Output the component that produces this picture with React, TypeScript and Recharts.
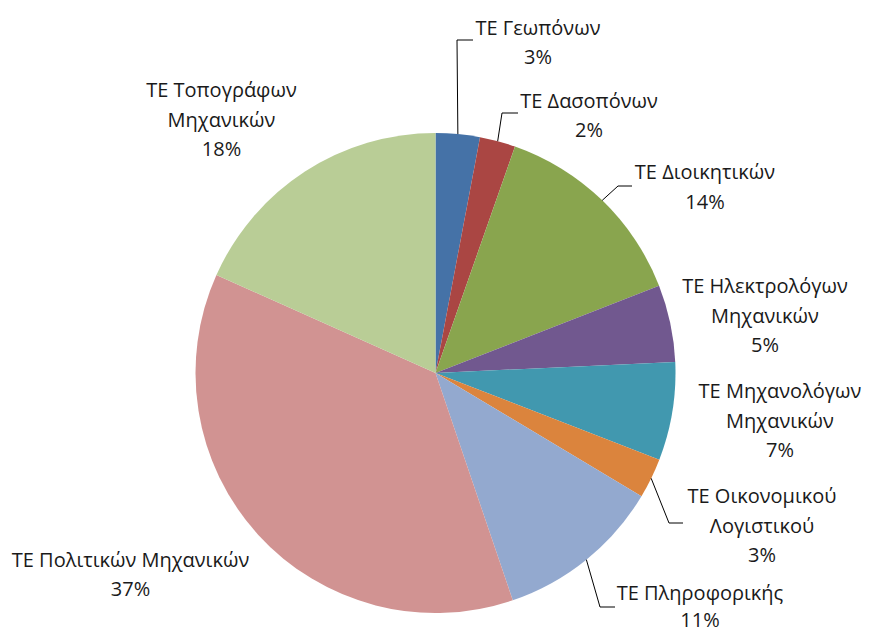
import { PieChart, Pie, Cell } from 'recharts';

const names = [
  'ΤΕ Γεωπόνων',
  'ΤΕ Δασοπόνων',
  'ΤΕ Διοικητικών',
  'ΤΕ Ηλεκτρολόγων Μηχανικών',
  'ΤΕ Μηχανολόγων Μηχανικών',
  'ΤΕ Οικονομικού Λογιστικού',
  'ΤΕ Πληροφορικής',
  'ΤΕ Πολιτικών Μηχανικών',
  'ΤΕ Τοπογράφων Μηχανικών',
];

const shares = [2.97, 2.4, 13.7, 5.2, 6.6, 2.7, 11.2, 36.9, 18.3];

const colors = ['#4572A7', '#AA4643', '#89A54E', '#71588F', '#4198AF', '#DB843D', '#93A9CF', '#D19392', '#B9CD96'];

// how each label is split into lines
const labelLines = [
  ['ΤΕ Γεωπόνων'],
  ['ΤΕ Δασοπόνων'],
  ['ΤΕ Διοικητικών'],
  ['ΤΕ Ηλεκτρολόγων', 'Μηχανικών'],
  ['ΤΕ Μηχανολόγων', 'Μηχανικών'],
  ['ΤΕ Οικονομικού', 'Λογιστικού'],
  ['ΤΕ Πληροφορικής'],
  ['ΤΕ Πολιτικών Μηχανικών'],
  ['ΤΕ Τοπογράφων', 'Μηχανικών'],
];

const data = names.map((name, i) => ({ name, value: shares[i] }));

// label placement relative to pie centre: text block centre, line gap + optional leader elbow
const layout: Array<{ dx: number; dy: number; gap?: number; leader?: [number, number, number] }> = [
  { dx: 102.5, dy: -331, leader: [21.5, -333, 37.5] },
  { dx: 153.5, dy: -258, leader: [66.5, -260, 82.5] },
  { dx: 269.5, dy: -186.5, leader: [182.5, -187, 196.5] },
  { dx: 329.5, dy: -58 },
  { dx: 344.5, dy: 47 },
  { dx: 326.5, dy: 152, leader: [233.5, 150, 247.5] },
  { dx: 264.5, dy: 232.5, gap: 27, leader: [164.5, 234, 179.5] },
  { dx: -305, dy: 201 },
  { dx: -214, dy: -254 },
];

const RAD = Math.PI / 180;
const LINE_H = 29.5;

function renderLabel(props: any) {
  const { cx, cy, midAngle, outerRadius, index, percent } = props;
  const lay = layout[index];
  const lh = lay.gap ?? LINE_H;
  const lines = [...labelLines[index], `${Math.round(percent * 100)}%`];
  const x = cx + lay.dx;
  const top = cy + lay.dy - ((lines.length - 1) * lh) / 2;
  let leader = null;
  if (lay.leader) {
    const sx = cx + outerRadius * Math.cos(-midAngle * RAD);
    const sy = cy + outerRadius * Math.sin(-midAngle * RAD);
    const [ex, ey, hx] = lay.leader;
    leader = (
      <polyline
        points={`${sx},${sy} ${cx + ex},${cy + ey} ${cx + hx},${cy + ey}`}
        fill="none"
        stroke="#000"
        strokeWidth={1}
      />
    );
  }
  return (
    <g key={`lbl-${index}`}>
      {leader}
      {lines.map((t, k) => (
        <text
          key={k}
          x={x}
          y={top + k * lh}
          textAnchor="middle"
          dominantBaseline="central"
          fill="#1a1a1a"
          fontSize={20}
          fontFamily="'Open Sans', sans-serif"
        >
          {t}
        </text>
      ))}
    </g>
  );
}

export default function App() {
  return (
    <div style={{ width: 877, height: 635, background: '#fff' }}>
      <style>{'body{margin:0}'}</style>
      <PieChart width={877} height={635} margin={{ top: 0, right: 0, bottom: 0, left: 0 }}>
        <Pie
          data={data}
          dataKey="value"
          nameKey="name"
          cx={435.5}
          cy={373}
          outerRadius={240}
          startAngle={90}
          endAngle={-270}
          stroke="none"
          labelLine={false}
          label={renderLabel}
          isAnimationActive={false}
        >
          {data.map((entry, i) => (
            <Cell key={`cell-${i}`} fill={colors[i]} />
          ))}
        </Pie>
      </PieChart>
    </div>
  );
}
